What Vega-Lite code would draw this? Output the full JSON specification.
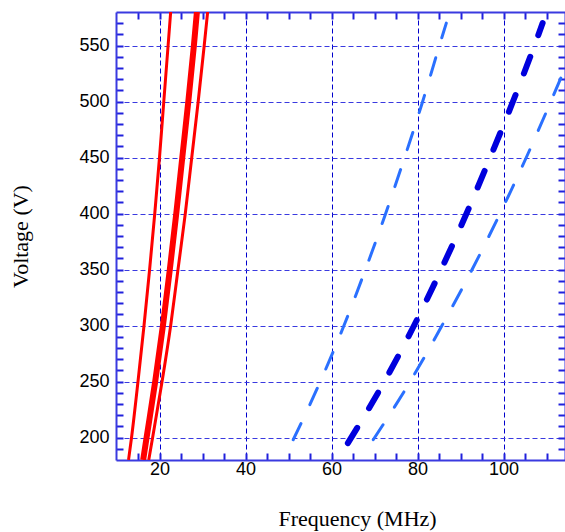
{
  "$schema": "https://vega.github.io/schema/vega-lite/v6.json",
  "width": 449,
  "height": 448,
  "autosize": {"type": "none"},
  "padding": {"left": 116, "top": 12, "right": 0, "bottom": 72},
  "background": "white",
  "config": {"view": {"stroke": null}},
  "data": {"values": [
    {"s": "r1", "g": "rthin", "v": 180, "f": 12.8},
    {"s": "r1", "g": "rthin", "v": 200, "f": 13.5},
    {"s": "r1", "g": "rthin", "v": 250, "f": 15.0},
    {"s": "r1", "g": "rthin", "v": 300, "f": 16.4},
    {"s": "r1", "g": "rthin", "v": 350, "f": 17.7},
    {"s": "r1", "g": "rthin", "v": 400, "f": 18.9},
    {"s": "r1", "g": "rthin", "v": 450, "f": 20.0},
    {"s": "r1", "g": "rthin", "v": 500, "f": 21.0},
    {"s": "r1", "g": "rthin", "v": 550, "f": 22.0},
    {"s": "r1", "g": "rthin", "v": 580, "f": 22.6},
    {"s": "r3", "g": "rthin", "v": 180, "f": 17.5},
    {"s": "r3", "g": "rthin", "v": 200, "f": 18.4},
    {"s": "r3", "g": "rthin", "v": 250, "f": 20.6},
    {"s": "r3", "g": "rthin", "v": 300, "f": 22.6},
    {"s": "r3", "g": "rthin", "v": 350, "f": 24.3},
    {"s": "r3", "g": "rthin", "v": 400, "f": 26.0},
    {"s": "r3", "g": "rthin", "v": 450, "f": 27.5},
    {"s": "r3", "g": "rthin", "v": 500, "f": 29.0},
    {"s": "r3", "g": "rthin", "v": 550, "f": 30.4},
    {"s": "r3", "g": "rthin", "v": 580, "f": 31.2},
    {"s": "r2", "g": "rthick", "v": 180, "f": 16.2},
    {"s": "r2", "g": "rthick", "v": 200, "f": 17.0},
    {"s": "r2", "g": "rthick", "v": 250, "f": 19.0},
    {"s": "r2", "g": "rthick", "v": 300, "f": 20.8},
    {"s": "r2", "g": "rthick", "v": 350, "f": 22.4},
    {"s": "r2", "g": "rthick", "v": 400, "f": 23.9},
    {"s": "r2", "g": "rthick", "v": 450, "f": 25.3},
    {"s": "r2", "g": "rthick", "v": 500, "f": 26.7},
    {"s": "r2", "g": "rthick", "v": 550, "f": 28.0},
    {"s": "r2", "g": "rthick", "v": 580, "f": 28.7},
    {"s": "b1", "g": "lb", "v": 198, "f": 51.1},
    {"s": "b1", "g": "lb", "v": 250, "f": 57.4},
    {"s": "b1", "g": "lb", "v": 300, "f": 62.9},
    {"s": "b1", "g": "lb", "v": 350, "f": 67.9},
    {"s": "b1", "g": "lb", "v": 400, "f": 72.6},
    {"s": "b1", "g": "lb", "v": 450, "f": 77.0},
    {"s": "b1", "g": "lb", "v": 500, "f": 81.2},
    {"s": "b1", "g": "lb", "v": 550, "f": 85.1},
    {"s": "b1", "g": "lb", "v": 570, "f": 86.7},
    {"s": "b3", "g": "lb", "v": 198, "f": 69.7},
    {"s": "b3", "g": "lb", "v": 250, "f": 78.3},
    {"s": "b3", "g": "lb", "v": 300, "f": 85.7},
    {"s": "b3", "g": "lb", "v": 350, "f": 92.7},
    {"s": "b3", "g": "lb", "v": 400, "f": 99.2},
    {"s": "b3", "g": "lb", "v": 450, "f": 105.3},
    {"s": "b3", "g": "lb", "v": 500, "f": 111.0},
    {"s": "b3", "g": "lb", "v": 550, "f": 116.5},
    {"s": "b3", "g": "lb", "v": 570, "f": 118.6},
    {"s": "b2", "g": "db", "v": 195, "f": 63.8},
    {"s": "b2", "g": "db", "v": 250, "f": 72.3},
    {"s": "b2", "g": "db", "v": 300, "f": 79.2},
    {"s": "b2", "g": "db", "v": 350, "f": 85.5},
    {"s": "b2", "g": "db", "v": 400, "f": 91.4},
    {"s": "b2", "g": "db", "v": 450, "f": 96.9},
    {"s": "b2", "g": "db", "v": 500, "f": 102.2},
    {"s": "b2", "g": "db", "v": 550, "f": 107.2},
    {"s": "b2", "g": "db", "v": 570, "f": 109.1}
  ]},
  "resolve": {"axis": {"x": "independent", "y": "independent"}},
  "layer": [
    {
      "transform": [{"filter": "datum.g === 'rthin'"}],
      "mark": {"type": "line", "color": "#ff0000", "strokeWidth": 3, "interpolate": "monotone", "clip": true},
      "encoding": {
        "x": {"field": "f", "type": "quantitative", "scale": {"domain": [9.8837, 114.302], "nice": false, "zero": false},
          "axis": {"orient": "bottom", "values": [15,20,25,30,35,40,45,50,55,60,65,70,75,80,85,90,95,100,105,110],
            "labelExpr": "datum.value % 20 === 0 ? datum.label : ''",
            "labelFont": "Liberation Sans", "labelFontSize": 18, "labelColor": "#000000", "labelPadding": 7,
            "labelFlush": false, "labelOverlap": false,
            "tickSize": -7, "tickColor": "#2020dc", "tickWidth": 2,
            "domainColor": "#3a3ae0", "domainWidth": 2,
            "grid": true, "gridColor": "#0000cc", "gridDash": [5, 3], "gridWidth": 1,
            "gridOpacity": {"condition": {"test": "datum.value % 20 === 0", "value": 1}, "value": 0},
            "title": "Frequency (MHz)", "titleFont": "Liberation Serif", "titleFontSize": 22, "titleFontWeight": "normal",
            "titleColor": "#000000", "titleX": 241, "titleY": 65, "titleBaseline": "alphabetic", "titleAlign": "center"}},
        "y": {"field": "v", "type": "quantitative", "scale": {"domain": [179.911, 579.911], "nice": false, "zero": false},
          "axis": {"orient": "left", "values": [190,200,210,220,230,240,250,260,270,280,290,300,310,320,330,340,350,360,370,380,390,400,410,420,430,440,450,460,470,480,490,500,510,520,530,540,550,560,570],
            "labelExpr": "datum.value % 50 === 0 ? datum.label : ''",
            "labelFont": "Liberation Sans", "labelFontSize": 18, "labelColor": "#000000", "labelPadding": 14,
            "labelFlush": false, "labelOverlap": false,
            "tickSize": -7, "tickColor": "#2020dc", "tickWidth": 2,
            "domainColor": "#3a3ae0", "domainWidth": 2,
            "grid": true, "gridColor": "#3a3ae0", "gridDash": [5, 3], "gridWidth": 1,
            "gridOpacity": {"condition": {"test": "datum.value % 50 === 0", "value": 1}, "value": 0},
            "title": "Voltage (V)", "titleFont": "Liberation Serif", "titleFontSize": 22, "titleFontWeight": "normal",
            "titleColor": "#000000", "titleX": -89, "titleY": 224, "titleAngle": -90, "titleBaseline": "alphabetic", "titleAlign": "center"}},
        "detail": {"field": "s", "type": "nominal"},
        "order": {"field": "v", "type": "quantitative"}
      }
    },
    {
      "transform": [{"filter": "datum.g === 'rthick'"}],
      "mark": {"type": "line", "color": "#ff0000", "strokeWidth": 6, "interpolate": "monotone", "clip": true},
      "encoding": {
        "x": {"field": "f", "type": "quantitative", "scale": {"domain": [9.8837, 114.302], "nice": false, "zero": false},
          "axis": {"orient": "top", "values": [15,20,25,30,35,40,45,50,55,60,65,70,75,80,85,90,95,100,105,110],
            "labels": false, "grid": false, "title": null,
            "tickSize": -7, "tickColor": "#2020dc", "tickWidth": 2,
            "domainColor": "#3a3ae0", "domainWidth": 2}},
        "y": {"field": "v", "type": "quantitative", "scale": {"domain": [179.911, 579.911], "nice": false, "zero": false},
          "axis": {"orient": "right", "values": [190,200,210,220,230,240,250,260,270,280,290,300,310,320,330,340,350,360,370,380,390,400,410,420,430,440,450,460,470,480,490,500,510,520,530,540,550,560,570],
            "labels": false, "grid": false, "title": null,
            "tickSize": -7, "tickColor": "#2020dc", "tickWidth": 2,
            "domainColor": "#3a3ae0", "domainWidth": 2}},
        "detail": {"field": "s", "type": "nominal"},
        "order": {"field": "v", "type": "quantitative"}
      }
    },
    {
      "transform": [{"filter": "datum.g === 'lb'"}],
      "mark": {"type": "line", "color": "#2a70ff", "strokeWidth": 3, "strokeDash": [18, 21], "strokeCap": "round", "interpolate": "monotone", "clip": true},
      "encoding": {
        "x": {"field": "f", "type": "quantitative", "axis": null},
        "y": {"field": "v", "type": "quantitative", "axis": null},
        "detail": {"field": "s", "type": "nominal"},
        "order": {"field": "v", "type": "quantitative"}
      }
    },
    {
      "transform": [{"filter": "datum.g === 'db'"}],
      "mark": {"type": "line", "color": "#0000dd", "strokeWidth": 6, "strokeDash": [18, 23], "strokeCap": "round", "interpolate": "monotone", "clip": true},
      "encoding": {
        "x": {"field": "f", "type": "quantitative", "axis": null},
        "y": {"field": "v", "type": "quantitative", "axis": null},
        "detail": {"field": "s", "type": "nominal"},
        "order": {"field": "v", "type": "quantitative"}
      }
    }
  ]
}
